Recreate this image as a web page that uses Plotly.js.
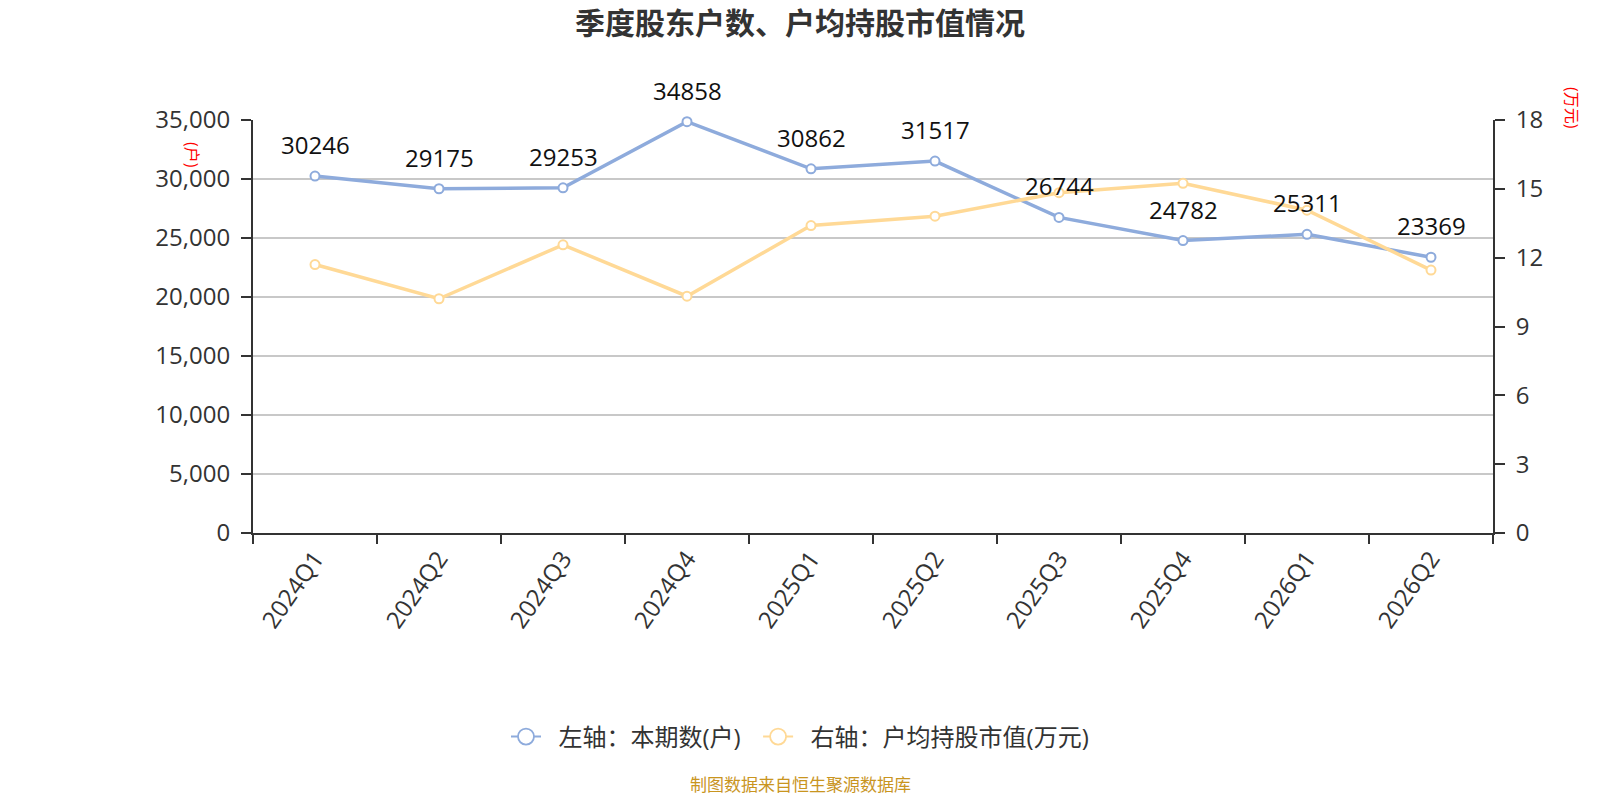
<!DOCTYPE html>
<html>
<head>
<meta charset="utf-8">
<script src="https://cdn.plot.ly/plotly-3.0.1.min.js"></script>
<style>
  html, body { margin: 0; padding: 0; background: #fff; }
  #chart { width: 1600px; height: 800px; }
</style>
</head>
<body>
<div id="chart"></div>
<script>
// quarters and series
const quarters = ['2024Q1', '2024Q2', '2024Q3', '2024Q4', '2025Q1', '2025Q2', '2025Q3', '2025Q4', '2026Q1', '2026Q2'];
const holders = [30246, 29175, 29253, 34858, 30862, 31517, 26744, 24782, 25311, 23369];
const avgValue = [11.70, 10.21, 12.56, 10.32, 13.40, 13.81, 14.83, 15.24, 14.07, 11.46];

const leftName = '左轴：本期数(户)';
const rightName = '右轴：户均持股市值(万元)';

const FONT = '"Open Sans", "Noto Sans CJK SC", sans-serif';
const BLUE = '#8eabdc';
const YELLOW = '#ffd996';

const data = [
  {
    x: quarters, y: holders, name: leftName, yaxis: 'y',
    type: 'scatter', mode: 'lines+markers', showlegend: false, cliponaxis: false,
    line: { color: BLUE, width: 3.5 },
    marker: { size: 9, color: '#fff', line: { color: BLUE, width: 2 } },
    hoverinfo: 'x+y'
  },
  {
    x: quarters, y: avgValue, name: rightName, yaxis: 'y2',
    type: 'scatter', mode: 'lines+markers', showlegend: false, cliponaxis: false,
    line: { color: YELLOW, width: 3.5 },
    marker: { size: 9, color: '#fff', line: { color: YELLOW, width: 2 } },
    hoverinfo: 'x+y'
  },
  // legend entries only
  {
    x: [null], y: [null], name: '\u00a0\u00a0' + leftName + '\u00a0\u00a0', type: 'scatter', mode: 'lines+markers',
    line: { color: BLUE, width: 2 },
    marker: { size: 20, color: '#fff', line: { color: BLUE, width: 1.8 } }
  },
  {
    x: [null], y: [null], name: '\u00a0\u00a0' + rightName, type: 'scatter', mode: 'lines+markers', yaxis: 'y2',
    line: { color: YELLOW, width: 2 },
    marker: { size: 20, color: '#fff', line: { color: YELLOW, width: 1.8 } }
  }
];

// value labels above the blue points
const labels = quarters.map((q, i) => ({
  x: q, y: holders[i], xref: 'x', yref: 'y',
  text: String(holders[i]), showarrow: false,
  yanchor: 'bottom', yshift: 13,
  font: { family: FONT, size: 24, color: '#111' }
}));

const others = [
  {
    xref: 'paper', yref: 'paper', x: 0, y: 1, xshift: -74, yshift: -20,
    text: '(户)', showarrow: false, textangle: 90,
    font: { family: FONT, size: 16, color: '#ff0000' }
  },
  {
    xref: 'paper', yref: 'paper', x: 1, y: 1, xshift: 92, yshift: 35,
    text: '(万元)', showarrow: false, textangle: 90,
    font: { family: FONT, size: 16, color: '#ff0000' }
  },
  {
    xref: 'paper', yref: 'paper', x: 0.5, y: (533 - 784) / 413, yanchor: 'middle',
    xshift: -73,
    text: '制图数据来自恒生聚源数据库', showarrow: false,
    font: { family: FONT, size: 17, color: '#c9951f' }
  }
];

const layout = {
  width: 1600, height: 800,
  paper_bgcolor: '#fff', plot_bgcolor: '#fff',
  margin: { l: 253, r: 107, t: 120, b: 267 },
  font: { family: FONT, color: '#333' },
  title: {
    text: '<b>季度股东户数、户均持股市值情况</b>',
    xref: 'container', x: 0.5, xanchor: 'center',
    yref: 'container', y: 1 - 23 / 800, yanchor: 'middle',
    font: { family: FONT, size: 30, color: '#333' }
  },
  xaxis: {
    type: 'category', range: [-0.5, 9.5],
    tickson: 'boundaries', ticks: 'outside', ticklen: 9, tickwidth: 1.5, tickcolor: '#333',
    showline: true, linecolor: '#333', linewidth: 2,
    showgrid: false, zeroline: false,
    tickangle: -55, tickfont: { family: FONT, size: 24, color: '#333' }
  },
  yaxis: {
    range: [0, 35000], dtick: 5000, tickformat: ',d',
    ticks: 'outside', ticklen: 10, tickwidth: 1.5, tickcolor: '#333', ticklabelstandoff: 6,
    showline: true, linecolor: '#333', linewidth: 2,
    showgrid: true, gridcolor: '#c8c8c8', gridwidth: 1.5, zeroline: false,
    tickfont: { family: FONT, size: 24, color: '#333' }
  },
  yaxis2: {
    overlaying: 'y', side: 'right',
    range: [0, 18], dtick: 3,
    ticks: 'outside', ticklen: 10, tickwidth: 1.5, tickcolor: '#333', ticklabelstandoff: 6,
    showline: true, linecolor: '#333', linewidth: 2,
    showgrid: false, zeroline: false,
    tickfont: { family: FONT, size: 24, color: '#333' }
  },
  legend: {
    orientation: 'h',
    xref: 'container', x: 0.5, xanchor: 'center',
    yref: 'container', y: 1 - 737 / 800, yanchor: 'middle',
    font: { family: FONT, size: 24, color: '#333' },
    bgcolor: 'rgba(0,0,0,0)'
  },
  annotations: labels.concat(others),
  showlegend: true
};

Plotly.newPlot('chart', data, layout, { displayModeBar: false, responsive: false });
</script>
</body>
</html>
